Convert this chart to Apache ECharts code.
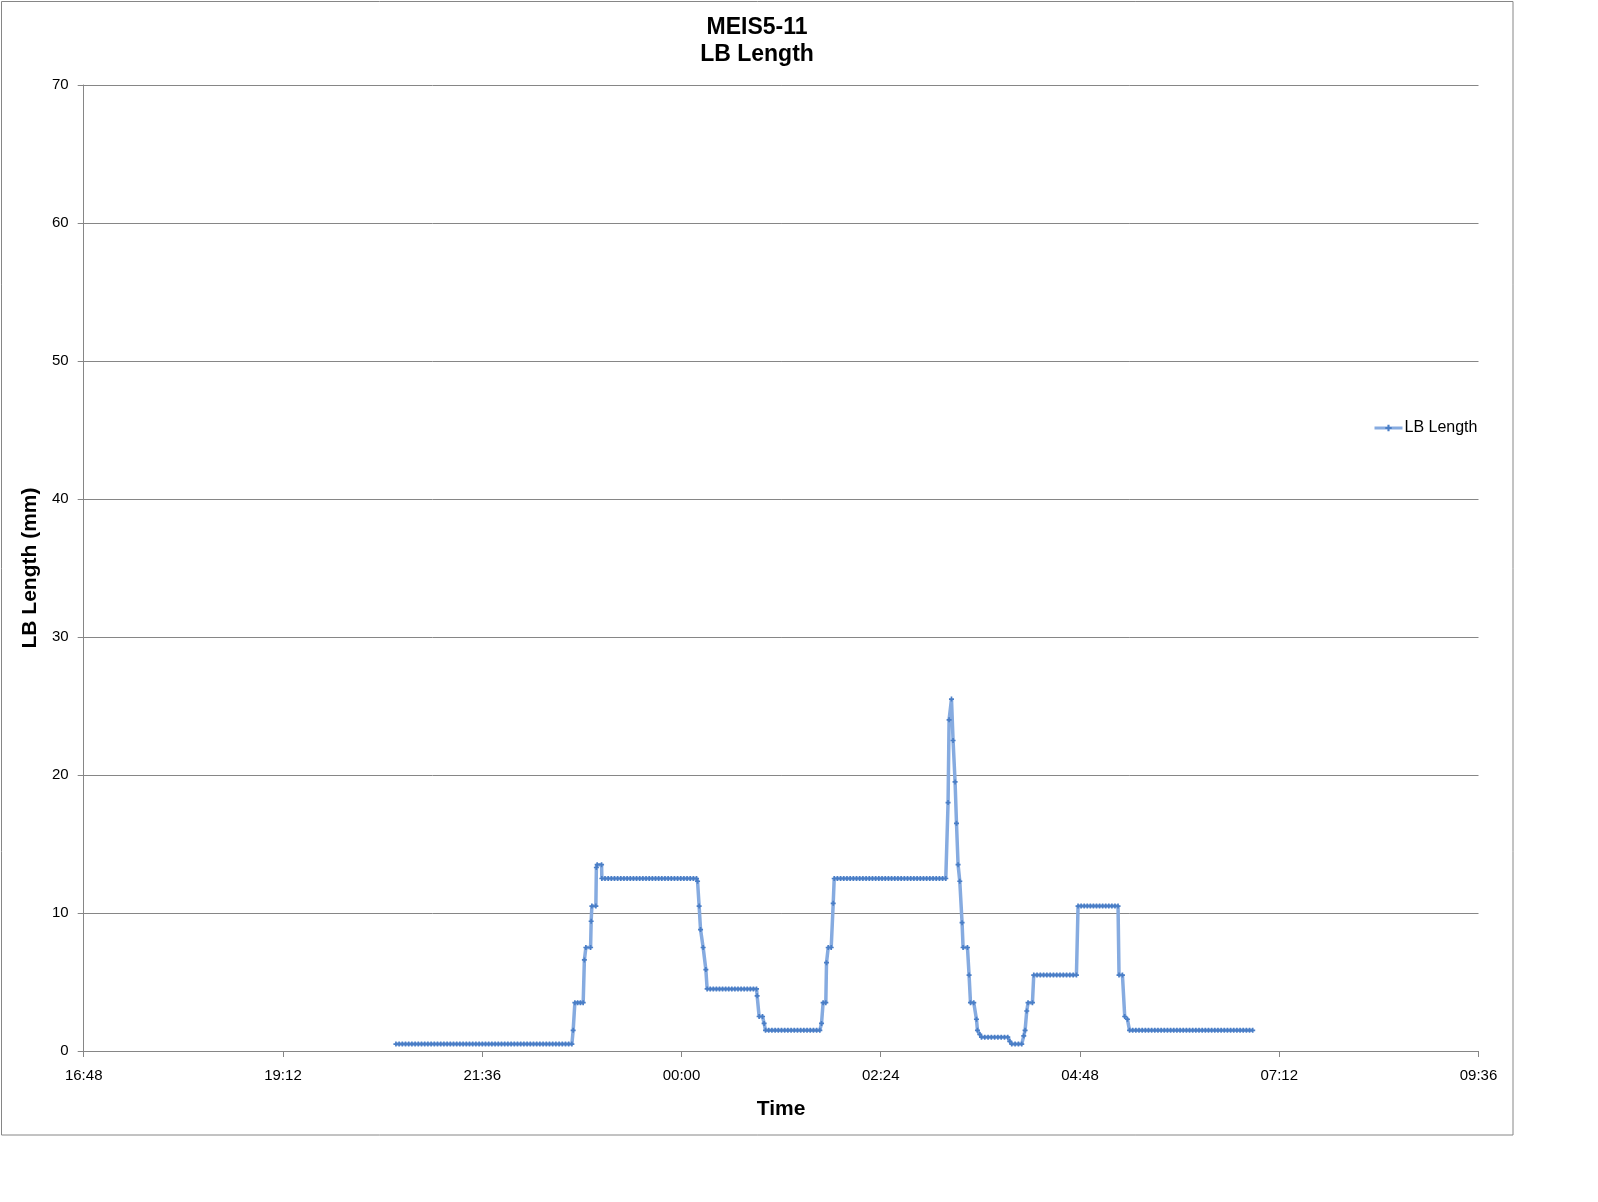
<!DOCTYPE html>
<html>
<head>
<meta charset="utf-8">
<script src="https://cdn.jsdelivr.net/npm/echarts@6/dist/echarts.min.js"></script>
<style>
html,body{margin:0;padding:0;background:#fff;}
#chart{width:1598px;height:1202px;}
</style>
</head>
<body>
<div id="chart"></div>
<script>
// Chart text
const chartTitle = "MEIS5-11\nLB Length";
const seriesName = "LB Length";
const xAxisTitle = "Time";
const yAxisTitle = "LB Length (mm)";

// Axis ranges (minutes since 00:00 of the first day; 16:48 -> 09:36 next day)
const xMinMinutes = 1008;
const xMaxMinutes = 2016;
const xTickStep = 144;
const yMin = 0, yMax = 70, yStep = 10;

// Readings as runs of a constant value: start time, end time, value
const runStart = ["20:33:38","22:41:44","22:42:58","22:49:50","22:50:55","22:54:44","22:55:15","22:58:30","22:59:05","23:02:28",
  "00:11:37","00:12:46","00:13:47","00:15:40","00:17:37","00:18:33","00:54:41","00:56:07","00:59:44","01:00:45",
  "01:41:13","01:42:22","01:44:49","01:46:03","01:49:40","01:50:23","03:12:40","03:13:24","03:15:08","03:16:17",
  "03:17:44","03:18:45","03:19:54","03:21:08","03:22:47","03:23:31","03:27:51","03:28:52","03:33:11","03:33:55",
  "03:35:35","03:36:49","03:57:15","03:58:42","04:07:22","04:08:19","04:09:32","04:10:28","04:14:35","04:46:36",
  "05:16:13","05:20:20","05:22:17","05:23:49"];
const runEnd = ["22:40:48","22:41:44","22:48:58","22:49:50","22:54:19","22:54:44","22:58:08","22:58:30","23:02:15","00:10:53",
  "00:11:37","00:12:46","00:13:47","00:15:40","00:17:37","00:54:14","00:54:41","00:58:35","00:59:44","01:39:59",
  "01:41:13","01:44:19","01:44:49","01:48:13","01:49:40","03:11:01","03:12:40","03:13:24","03:15:08","03:16:17",
  "03:17:44","03:18:45","03:19:54","03:21:08","03:22:47","03:26:41","03:27:51","03:31:14","03:33:11","03:33:55",
  "03:35:35","03:55:49","03:57:15","04:05:55","04:07:22","04:08:19","04:09:32","04:13:39","04:45:26","05:15:30",
  "05:18:41","05:20:20","05:22:17","06:52:49"];
const runValue = [0.5,1.5,3.5,6.6,7.5,9.4,10.5,13.3,13.5,12.5,
  12.3,10.5,8.8,7.5,5.9,4.5,4.0,2.5,2.0,1.5,
  2.0,3.5,6.4,7.5,10.7,12.5,18.0,24.0,25.5,22.5,
  19.5,16.5,13.5,12.3,9.3,7.5,5.5,3.5,2.3,1.5,
  1.2,1.0,0.7,0.5,1.1,1.5,2.9,3.5,5.5,10.5,
  5.5,2.5,2.3,1.5];
// Logging interval of the readings (minutes)
const sampleStep = 2.3;

function toMinutes(s){
  const p = s.split(":").map(Number);
  let m = p[0]*60 + p[1] + (p[2]||0)/60;
  if (p[0] < 12) m += 1440;
  return m;
}
function fmt(v){
  let m = Math.round(v) % 1440;
  const h = Math.floor(m/60), mm = m%60;
  return String(h).padStart(2,"0") + ":" + String(mm).padStart(2,"0");
}

const points = [];
for (let i = 0; i < runValue.length; i++){
  const a = toMinutes(runStart[i]), b = toMinutes(runEnd[i]);
  const n = Math.max(1, Math.round((b - a)/sampleStep) + 1);
  for (let k = 0; k < n; k++){
    const t = n === 1 ? a : a + (b - a)*k/(n-1);
    points.push([t, runValue[i]]);
  }
}

const grey = "#868686";
const chart = echarts.init(document.getElementById("chart"), null, {renderer:"canvas"});
chart.setOption({
  animation:false,
  backgroundColor:"#fff",
  textStyle:{fontFamily:"Liberation Sans, Arial, sans-serif"},
  title:{
    text: chartTitle,
    left: 752, top: 9, textAlign:"center",
    textStyle:{fontSize:23, fontWeight:"bold", color:"#000", lineHeight:27, fontFamily:"Liberation Sans, Arial, sans-serif"}
  },
  legend:{
    data:[seriesName],
    left:1368, top:415,
    itemWidth:28, itemHeight:8, itemGap:5,
    lineStyle:{width:3},
    textStyle:{fontSize:16, color:"#000", padding:[0,0,0,-3], fontFamily:"Liberation Sans, Arial, sans-serif"}
  },
  grid:{left:83.7, right:119.5, top:85, bottom:151, containLabel:false},
  xAxis:{
    type:"value",
    min:xMinMinutes, max:xMaxMinutes, interval:xTickStep,
    name:xAxisTitle, nameLocation:"middle", nameGap:48,
    nameTextStyle:{fontSize:21, fontWeight:"bold", color:"#000"},
    axisLine:{show:true, lineStyle:{color:grey, width:1}},
    axisTick:{show:true, inside:false, length:6, lineStyle:{color:grey}},
    axisLabel:{fontSize:15, color:"#000", margin:17, formatter:fmt},
    splitLine:{show:false}
  },
  yAxis:{
    type:"value",
    min:yMin, max:yMax, interval:yStep,
    name:yAxisTitle, nameLocation:"middle", nameGap:43, nameRotate:90,
    nameTextStyle:{fontSize:21, fontWeight:"bold", color:"#000"},
    axisLine:{show:true, lineStyle:{color:grey, width:1}},
    axisTick:{show:true, inside:false, length:6, lineStyle:{color:grey}},
    axisLabel:{fontSize:15, color:"#000", margin:15},
    splitLine:{show:true, lineStyle:{color:grey, width:1}}
  },
  series:[{
    name:seriesName,
    type:"line",
    data:points,
    showSymbol:true,
    symbol:"path://M2,0H4V2H6V4H4V6H2V4H0V2H2Z",
    symbolSize:5,
    itemStyle:{color:"#4a7ec6"},
    lineStyle:{color:"#86abe0", width:3.5},
    emphasis:{disabled:true}
  }],
  graphic:[{
    type:"rect", silent:true,
    shape:{x:1.5, y:1.5, width:1511.5, height:1133.5},
    style:{fill:"none", stroke:grey, lineWidth:1}
  }]
});
</script>
</body>
</html>
